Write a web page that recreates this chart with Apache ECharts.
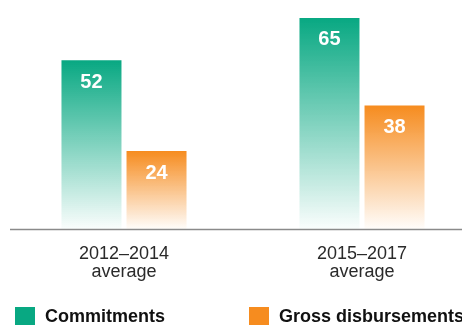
<!DOCTYPE html>
<html>
<head>
<meta charset="utf-8">
<script src="https://cdn.jsdelivr.net/npm/echarts@6/dist/echarts.min.js"></script>
<style>
html,body{margin:0;padding:0;background:#fff;}
#chart{width:462px;height:325px;}
</style>
</head>
<body>
<div id="chart"></div>
<script>
var categories = ['2012\u20132014\naverage', '2015\u20132017\naverage'];
var commitments = [52, 65];
var grossDisbursements = [24, 38];
var seriesNames = ['Commitments', 'Gross disbursements'];

var GREEN = '#08a882';
var ORANGE = '#f68c1f';

function grad(c, rgb) {
  return new echarts.graphic.LinearGradient(0, 0, 0, 1, [
    {offset: 0, color: c},
    {offset: 1, color: 'rgba(' + rgb + ',0.02)'}
  ]);
}

var FONT = 'Liberation Sans, Arial, sans-serif';
var chart = echarts.init(document.getElementById('chart'), null, {renderer: 'canvas'});
var labelStyle = {
  show: true, position: 'insideTop', distance: 12,
  color: '#fff', fontSize: 20, fontWeight: 'bold', fontFamily: FONT
};
var legendText = {fontSize: 18, fontWeight: 'bold', color: '#111', padding: [5, 0, 0, 5], fontFamily: FONT};
chart.setOption({
  animation: false,
  grid: {left: 124, right: 100, top: 1.7, bottom: 96, containLabel: false},
  xAxis: {
    type: 'category', data: categories, boundaryGap: false,
    axisLine: {show: false}, axisTick: {show: false},
    axisLabel: {
      margin: 16, color: '#2a2a2a', fontSize: 18, lineHeight: 18, fontFamily: FONT
    }
  },
  yAxis: {type: 'value', min: 0, max: 70, show: false, splitLine: {show: false}},
  legend: [
    {
      data: [{name: seriesNames[0], itemStyle: {color: GREEN}}],
      left: 15, top: 307, padding: 0, itemWidth: 20, itemHeight: 20,
      icon: 'rect', textStyle: legendText
    },
    {
      data: [{name: seriesNames[1], itemStyle: {color: ORANGE}}],
      left: 249, top: 307, padding: 0, itemWidth: 20, itemHeight: 20,
      icon: 'rect', textStyle: legendText
    }
  ],
  graphic: [{
    type: 'line', shape: {x1: 10, y1: 229.5, x2: 462, y2: 229.5},
    style: {stroke: '#8a8a8a', lineWidth: 1.5}, z: 10
  }],
  series: [
    {
      name: seriesNames[0], type: 'bar', data: commitments,
      barWidth: 60, barGap: '8.4%',
      itemStyle: {color: grad(GREEN, '8,168,130')},
      label: labelStyle
    },
    {
      name: seriesNames[1], type: 'bar', data: grossDisbursements,
      barWidth: 60,
      itemStyle: {color: grad(ORANGE, '246,140,31')},
      label: labelStyle
    }
  ]
});
</script>
</body>
</html>
